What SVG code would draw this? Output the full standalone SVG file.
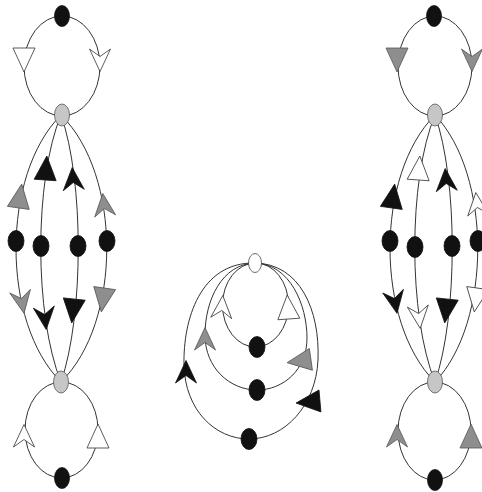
<svg xmlns="http://www.w3.org/2000/svg" width="482" height="492" viewBox="0 0 482 492">
<style>
.e{fill:none;stroke:#333;stroke-width:1}
.b{fill:#111;stroke:#111;stroke-width:0.8}
.g{fill:#c6c6c6;stroke:#555;stroke-width:0.8}
.w{fill:#fff;stroke:#444;stroke-width:0.8}
.ab{fill:#111;stroke:#111;stroke-width:0.8}
.ag{fill:#8e8e8e;stroke:#555;stroke-width:0.8}
.aw{fill:#fff;stroke:#333;stroke-width:0.8}
</style>
<defs>
<path id="tri" d="M0,-12 L11,12 L-11,12 Z"/>
<path id="chev" d="M0,-11.5 L10.5,11 L0,3.5 L-10.5,11 Z"/>
</defs>
<rect width="482" height="492" fill="#fff"/>
<g id="connectors">
<!-- left figure -->
<ellipse class="e" cx="62" cy="66" rx="38" ry="50"/>
<ellipse class="e" cx="61.5" cy="430" rx="36.5" ry="48"/>
<path class="e" d="M61,115 C1,175 1,322 61,382"/>
<path class="e" d="M61,115 C34,180 34,315 61,382"/>
<path class="e" d="M61,115 C84,180 84,315 61,382"/>
<path class="e" d="M61,115 C122,175 122,322 61,382"/>
<use href="#tri" class="aw" transform="translate(24,60) rotate(180)"/>
<use href="#chev" class="aw" transform="translate(100,60) rotate(180)"/>
<use href="#tri" class="ag" transform="translate(20,196) rotate(8)"/>
<use href="#tri" class="ab" transform="translate(46,168) rotate(4)"/>
<use href="#chev" class="ab" transform="translate(73,179) rotate(-4)"/>
<use href="#chev" class="ag" transform="translate(104,205) rotate(-6)"/>
<use href="#chev" class="ag" transform="translate(22,302) rotate(170)"/>
<use href="#chev" class="ab" transform="translate(45,318) rotate(174)"/>
<use href="#tri" class="ab" transform="translate(73,311) rotate(186)"/>
<use href="#tri" class="ag" transform="translate(103,300) rotate(188)"/>
<use href="#chev" class="aw" transform="translate(24,436)"/>
<use href="#tri" class="aw" transform="translate(98,436)"/>
<!-- right figure -->
<ellipse class="e" cx="435" cy="66" rx="37" ry="50"/>
<ellipse class="e" cx="434.5" cy="431" rx="36.5" ry="49"/>
<path class="e" d="M435,115 C375,175 375,322 435,382"/>
<path class="e" d="M435,115 C408,180 408,315 435,382"/>
<path class="e" d="M435,115 C458,180 458,315 435,382"/>
<path class="e" d="M435,115 C492,175 492,322 435,382"/>
<use href="#tri" class="ag" transform="translate(397,60) rotate(180)"/>
<use href="#chev" class="ag" transform="translate(472,60) rotate(180)"/>
<use href="#tri" class="ab" transform="translate(393,196) rotate(8)"/>
<use href="#tri" class="aw" transform="translate(419,168) rotate(4)"/>
<use href="#chev" class="ab" transform="translate(446,180) rotate(-4)"/>
<use href="#chev" class="aw" transform="translate(477,204) rotate(-6)"/>
<use href="#chev" class="ab" transform="translate(395,302) rotate(170)"/>
<use href="#chev" class="aw" transform="translate(419,317) rotate(174)"/>
<use href="#tri" class="ab" transform="translate(446,311) rotate(186)"/>
<use href="#tri" class="aw" transform="translate(476,300) rotate(188)"/>
<use href="#chev" class="ag" transform="translate(397,436)"/>
<use href="#tri" class="ag" transform="translate(471,436)"/>
<!-- center figure -->
<ellipse class="e" cx="255.5" cy="305" rx="33" ry="42"/>
<path class="e" d="M255,263 C222,264 205,300 205,335 C205,368 230,390 257,390"/>
<path class="e" d="M255,263 C290,264 307,305 307,338 C307,370 283,390 257,390"/>
<path class="e" d="M255,263 C200,262 183,320 184,365 C185,410 215,439 249,439"/>
<path class="e" d="M255,263 C300,264 320,310 318,360 C316,405 285,439 249,439"/>
<use href="#chev" class="aw" transform="translate(222,307) rotate(4)"/>
<use href="#tri" class="aw" transform="translate(288,307) rotate(-4)"/>
<use href="#chev" class="ag" transform="translate(205,339)"/>
<use href="#tri" class="ag" transform="translate(299,361) rotate(-98)"/>
<use href="#chev" class="ab" transform="translate(186,372)"/>
<use href="#tri" class="ab" transform="translate(308,402) rotate(-95)"/>
</g>
<g id="L-top"><ellipse class="b" cx="62" cy="16" rx="7.5" ry="10.5"/></g>
<g id="L-hub1"><ellipse class="g" cx="62" cy="115" rx="7.5" ry="11"/></g>
<g id="L-m1"><ellipse class="b" cx="16" cy="241" rx="8" ry="10.5"/></g>
<g id="L-m2"><ellipse class="b" cx="41" cy="246" rx="8" ry="10.5"/></g>
<g id="L-m3"><ellipse class="b" cx="78" cy="246" rx="8" ry="10.5"/></g>
<g id="L-m4"><ellipse class="b" cx="107" cy="241" rx="8" ry="10.5"/></g>
<g id="L-hub2"><ellipse class="g" cx="61" cy="382" rx="7.5" ry="11"/></g>
<g id="L-bot"><ellipse class="b" cx="62" cy="478" rx="7.5" ry="10.5"/></g>
<g id="R-top"><ellipse class="b" cx="434" cy="16" rx="7.5" ry="10.5"/></g>
<g id="R-hub1"><ellipse class="g" cx="435" cy="115" rx="7.5" ry="11"/></g>
<g id="R-m1"><ellipse class="b" cx="390" cy="241" rx="8" ry="10.5"/></g>
<g id="R-m2"><ellipse class="b" cx="415" cy="247" rx="8" ry="10.5"/></g>
<g id="R-m3"><ellipse class="b" cx="452" cy="246" rx="8" ry="10.5"/></g>
<g id="R-m4"><ellipse class="b" cx="478" cy="241" rx="8" ry="10.5"/></g>
<g id="R-hub2"><ellipse class="g" cx="435" cy="382" rx="7.5" ry="11"/></g>
<g id="R-bot"><ellipse class="b" cx="435" cy="480" rx="7.5" ry="10.5"/></g>
<g id="C-top"><ellipse class="w" cx="255" cy="263" rx="6.5" ry="9.5"/></g>
<g id="C-in"><ellipse class="b" cx="257" cy="347" rx="8" ry="10.5"/></g>
<g id="C-mid"><ellipse class="b" cx="257" cy="390" rx="8" ry="10.5"/></g>
<g id="C-out"><ellipse class="b" cx="249" cy="439" rx="8" ry="10.5"/></g>
</svg>
